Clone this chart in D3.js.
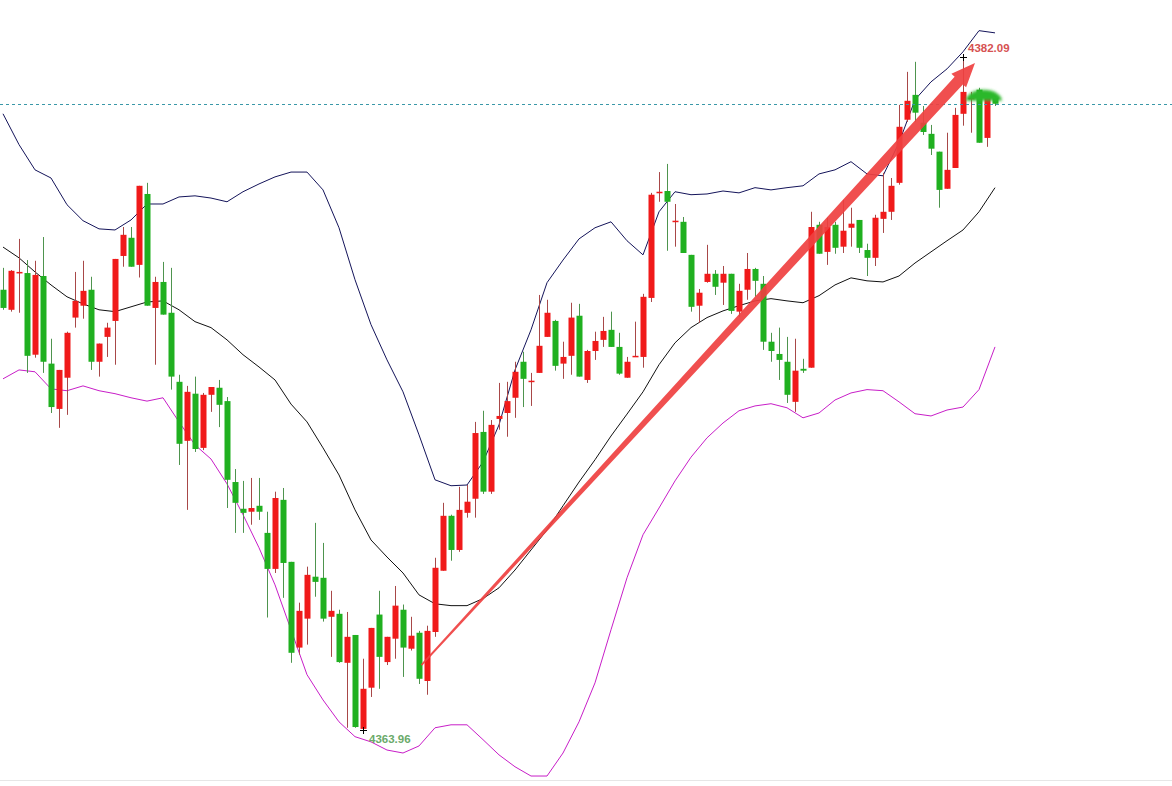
<!DOCTYPE html>
<html><head><meta charset="utf-8">
<script src="https://cdn.jsdelivr.net/npm/d3@7/dist/d3.min.js"></script>
<style>html,body{margin:0;padding:0;background:#fff;overflow:hidden}</style>
</head><body>
<svg id="chart" width="1172" height="786"></svg>
<script>
// ---- data (prices) ----
const opens = [4375.82,4375.28,4376.27,4376.27,4374.07,4376.19,4373.83,4372.61,4373.45,4375.07,4375.39,4375.82,4373.88,4374.55,4374.98,4376.73,4377.22,4376.49,4378.40,4375.33,4376.03,4375.20,4373.34,4371.75,4373.02,4371.56,4372.99,4373.18,4372.82,4370.64,4369.92,4369.84,4370.00,4369.27,4368.30,4370.16,4368.49,4366.18,4366.96,4368.09,4368.06,4367.01,4367.09,4365.77,4366.52,4363.99,4365.10,4367.07,4365.79,4366.42,4367.20,4366.15,4366.58,4365.28,4366.60,4368.25,4369.73,4368.81,4369.81,4370.19,4371.99,4370.38,4372.34,4372.50,4372.91,4373.88,4373.34,4373.58,4374.55,4374.98,4373.83,4374.04,4375.12,4373.39,4374.17,4374.47,4374.74,4374.28,4373.45,4374.01,4374.01,4375.60,4378.43,4378.48,4377.65,4377.65,4376.76,4375.39,4376.03,4376.25,4376.01,4376.25,4375.23,4375.82,4376.38,4375.98,4374.42,4374.09,4373.88,4372.80,4373.69,4373.72,4377.57,4376.84,4377.57,4376.98,4377.49,4377.70,4376.89,4376.68,4377.73,4377.92,4378.70,4380.40,4381.07,4380.32,4380.02,4379.54,4378.54,4379.10,4380.56,4380.96,4381.21,4379.91,4380.99];
const highs = [4376.41,4376.35,4377.19,4376.62,4376.60,4377.24,4374.50,4373.66,4374.69,4376.30,4376.60,4376.17,4374.37,4374.93,4376.65,4377.51,4377.51,4378.62,4378.70,4376.17,4376.57,4376.41,4373.53,4373.23,4373.48,4373.04,4373.20,4373.39,4372.93,4370.99,4370.67,4370.75,4370.75,4369.84,4370.38,4370.48,4368.49,4367.39,4368.36,4369.54,4369.00,4367.71,4367.20,4367.14,4366.52,4365.88,4366.71,4367.71,4366.47,4367.84,4367.34,4367.01,4366.63,4366.77,4368.60,4370.08,4369.76,4370.51,4370.56,4372.26,4372.56,4372.31,4373.31,4373.34,4373.88,4374.15,4373.58,4375.68,4375.55,4375.01,4374.42,4375.47,4375.44,4374.20,4374.69,4375.09,4375.23,4374.66,4374.01,4374.96,4375.71,4378.43,4378.99,4379.21,4378.13,4377.78,4376.76,4375.84,4377.03,4376.35,4376.46,4376.25,4375.98,4376.81,4376.41,4376.19,4374.66,4374.80,4374.55,4374.50,4373.96,4377.92,4377.65,4377.76,4377.65,4378.24,4378.03,4377.70,4377.06,4377.84,4378.97,4378.83,4380.80,4381.69,4381.96,4380.77,4380.26,4379.54,4380.05,4380.72,4382.09,4381.15,4381.26,4381.07,4381.04];
const lows = [4375.28,4375.23,4375.20,4373.58,4373.99,4373.58,4372.50,4372.10,4372.45,4374.80,4375.04,4373.66,4373.48,4374.01,4373.80,4376.44,4376.44,4376.15,4375.39,4373.80,4375.15,4373.13,4371.10,4369.89,4371.45,4371.50,4372.53,4372.12,4369.94,4369.27,4369.27,4369.49,4369.62,4366.99,4368.19,4367.52,4365.77,4365.99,4366.26,4367.55,4366.88,4365.93,4365.77,4364.02,4364.02,4363.96,4364.85,4365.07,4365.71,4365.88,4365.39,4366.10,4365.20,4364.91,4366.47,4368.25,4368.52,4368.76,4369.68,4369.68,4370.32,4370.32,4372.05,4371.86,4372.37,4372.66,4372.69,4373.58,4374.55,4373.64,4373.42,4373.53,4373.48,4373.31,4373.93,4374.28,4374.28,4373.53,4373.45,4374.01,4373.72,4375.49,4378.19,4376.87,4376.98,4376.81,4375.23,4374.93,4376.01,4375.68,4375.41,4375.17,4375.09,4375.55,4375.63,4374.20,4373.88,4373.39,4372.77,4372.53,4373.58,4373.72,4376.79,4376.49,4376.79,4376.81,4376.98,4376.81,4376.19,4376.46,4377.35,4377.70,4378.65,4380.34,4380.34,4379.99,4379.45,4378.03,4378.54,4379.10,4380.24,4380.05,4379.78,4379.67,4380.77];
const closes = [4375.33,4376.33,4376.30,4374.04,4376.22,4373.88,4372.66,4373.66,4374.66,4375.52,4375.79,4373.88,4374.37,4374.80,4376.65,4377.30,4376.44,4378.62,4375.39,4376.03,4375.15,4373.48,4371.67,4373.07,4371.53,4372.99,4373.20,4372.72,4370.70,4370.08,4369.81,4369.94,4369.84,4368.30,4370.21,4368.46,4366.04,4367.17,4368.14,4367.95,4366.96,4367.17,4365.79,4366.47,4364.04,4365.07,4366.71,4365.93,4366.47,4367.31,4366.18,4366.50,4365.34,4366.63,4368.33,4369.73,4368.81,4369.89,4370.11,4371.96,4370.38,4372.18,4372.42,4372.82,4373.61,4373.42,4373.37,4374.31,4375.20,4373.77,4374.01,4375.07,4373.48,4374.17,4374.44,4374.71,4374.28,4373.56,4373.88,4374.04,4375.63,4378.38,4378.46,4378.19,4377.68,4376.81,4375.36,4375.74,4376.25,4375.90,4376.25,4375.25,4375.79,4376.38,4376.06,4374.42,4374.17,4373.93,4372.99,4373.64,4373.64,4377.51,4376.79,4377.51,4376.95,4377.41,4377.60,4376.95,4376.68,4377.76,4377.92,4378.62,4380.21,4380.91,4380.59,4380.07,4379.62,4378.51,4379.05,4380.53,4381.15,4380.99,4379.78,4380.99,4380.83];

// Bollinger bands, read every second bar (bar index 0,2,4,...,124)
const bandStep = 2;
const upperBand = [4380.56,4379.73,4379.05,4378.83,4378.11,4377.68,4377.46,4377.43,4377.70,4378.13,4378.13,4378.32,4378.35,4378.29,4378.19,4378.46,4378.67,4378.86,4378.99,4378.99,4378.51,4377.49,4376.09,4374.88,4373.93,4373.07,4371.91,4370.70,4370.54,4370.56,4371.18,4372.18,4373.66,4374.74,4376.01,4376.62,4377.19,4377.49,4377.65,4377.14,4376.76,4377.92,4378.46,4378.38,4378.40,4378.48,4378.43,4378.57,4378.51,4378.57,4378.62,4378.94,4379.05,4379.27,4378.94,4378.89,4379.78,4380.94,4381.42,4381.77,4382.23,4382.80,4382.74];
const midBand = [4376.97,4376.68,4376.30,4375.95,4375.63,4375.44,4375.28,4375.23,4375.36,4375.49,4375.52,4375.28,4374.96,4374.80,4374.47,4374.07,4373.74,4373.39,4372.74,4372.26,4371.56,4370.83,4369.89,4369.08,4368.62,4368.19,4367.60,4367.36,4367.31,4367.31,4367.50,4367.79,4368.27,4368.81,4369.35,4370.00,4370.64,4371.24,4371.88,4372.47,4373.07,4373.80,4374.39,4374.80,4375.07,4375.25,4375.39,4375.52,4375.58,4375.52,4375.47,4375.66,4375.95,4376.14,4376.06,4376.03,4376.19,4376.54,4376.84,4377.14,4377.43,4377.92,4378.57];
const lowerBand = [4373.42,4373.66,4373.61,4373.15,4373.10,4373.23,4373.10,4373.02,4372.91,4372.82,4372.91,4372.26,4371.64,4371.26,4370.59,4369.76,4368.87,4367.87,4366.66,4365.45,4364.77,4364.18,4363.78,4363.64,4363.42,4363.34,4363.53,4364.02,4364.10,4364.10,4363.70,4363.29,4362.97,4362.72,4362.72,4363.34,4364.18,4365.23,4366.66,4368.06,4369.22,4369.94,4370.67,4371.31,4371.83,4372.23,4372.56,4372.69,4372.75,4372.64,4372.37,4372.50,4372.85,4373.04,4373.13,4373.10,4372.80,4372.48,4372.42,4372.58,4372.66,4373.13,4374.28];

// marked extremes
const highMark = {index: 120, price: 4382.09, label: "4382.09"};
const lowMark = {index: 45, price: 4363.96, label: "4363.96"};
// drawn trend arrow (bar index, price)
const arrowFrom = [52.3, 4365.71];
const arrowTo = [121.5, 4381.93];
// green highlight on the last bars
const highlight = {index: 122.6, price: 4380.83};

// ---- drawing ----
const W = 1172, H = 786;
const svg = d3.select("#chart");
svg.append("rect").attr("width", W).attr("height", H).attr("fill", "#fff");

const x = d3.scaleLinear().domain([0, opens.length - 1]).range([3, 995]);
const y = d3.scaleLinear().domain([lowMark.price, highMark.price]).range([730, 57]);

const bars = opens.map((o, i) => ({i, o, h: highs[i], l: lows[i], c: closes[i]}));
const up = d => d.c >= d.o;

// bottom separator
svg.append("line").attr("x1", 0).attr("x2", W).attr("y1", 780.5).attr("y2", 780.5)
  .attr("stroke", "#e6e6e6").attr("stroke-width", 1);

// bands
const bandLine = arr => d3.line()
  .x((d, k) => x(k * bandStep)).y(d => y(d)).curve(d3.curveLinear)(arr);
svg.append("path").attr("d", bandLine(upperBand)).attr("fill", "none").attr("stroke", "#14145a").attr("stroke-width", 1);
svg.append("path").attr("d", bandLine(midBand)).attr("fill", "none").attr("stroke", "#111").attr("stroke-width", 1);
svg.append("path").attr("d", bandLine(lowerBand)).attr("fill", "none").attr("stroke", "#c81ec8").attr("stroke-width", 1);

// candles
const g = svg.append("g");
g.selectAll("line.wick").data(bars).join("line")
  .attr("x1", d => Math.round(x(d.i)) + 0.5).attr("x2", d => Math.round(x(d.i)) + 0.5)
  .attr("y1", d => y(d.h)).attr("y2", d => y(d.l))
  .attr("stroke", d => up(d) ? "#a84848" : "#4e944e").attr("stroke-width", 1);
g.selectAll("rect.body").data(bars).join("rect")
  .attr("x", d => Math.round(x(d.i)) - 2.5).attr("width", 6)
  .attr("y", d => y(Math.max(d.o, d.c)))
  .attr("height", d => Math.max(1.5, Math.abs(y(d.o) - y(d.c))))
  .attr("fill", d => up(d) ? "#f01a1a" : "#20b020");

// last price dashed line
const lastY = Math.round(y(closes[closes.length - 1])) + 0.5;
svg.append("line").attr("x1", 0).attr("x2", W).attr("y1", lastY).attr("y2", lastY)
  .attr("stroke", "#3a98a8").attr("stroke-width", 1).attr("stroke-dasharray", "3,3");

// extreme markers
function cross(px, py) {
  svg.append("path").attr("d", `M${px-3.5},${py}H${px+3.5}M${px},${py-3.5}V${py+3.5}`)
    .attr("stroke", "#000").attr("stroke-width", 1);
}
cross(Math.round(x(highMark.index)) + 0.5, Math.round(y(highMark.price)) + 0.5);
cross(Math.round(x(lowMark.index)) + 0.5, Math.round(y(lowMark.price)) + 0.5);
svg.append("text").attr("x", x(highMark.index) + 5).attr("y", y(highMark.price) - 5)
  .attr("font-family", "Liberation Sans, Arial, sans-serif").attr("font-size", 11.5)
  .attr("font-weight", "bold").attr("fill", "#d65252").text(highMark.label);
svg.append("text").attr("x", x(lowMark.index) + 6).attr("y", y(lowMark.price) + 13)
  .attr("font-family", "Liberation Sans, Arial, sans-serif").attr("font-size", 11.5)
  .attr("font-weight", "bold").attr("fill", "#6aaa6a").text(lowMark.label);

// green highlight blob
const defs = svg.append("defs");
defs.append("filter").attr("id", "blur").attr("x", "-30%").attr("y", "-30%").attr("width", "160%").attr("height", "160%")
  .append("feGaussianBlur").attr("stdDeviation", 1.6);
const hx = x(highlight.index), hy = y(highlight.price) - 3;
svg.append("path")
  .attr("d", `M${hx-18},${hy} A18,11 0 0 1 ${hx+18},${hy} Z`)
  .attr("fill", "#2cb82c").attr("filter", "url(#blur)");

// tapered trend arrow
const p0 = [x(arrowFrom[0]), y(arrowFrom[1])], p1 = [x(arrowTo[0]), y(arrowTo[1])];
const dx = p1[0] - p0[0], dy = p1[1] - p0[1], L = Math.hypot(dx, dy);
const ux = dx / L, uy = dy / L, nx = -uy, ny = ux;
const hl = 24, hw = 10, w0 = 0.9, w1 = 5.6;
const pb = [p1[0] - ux * hl, p1[1] - uy * hl];
const pts = [
  [p0[0] + nx * w0, p0[1] + ny * w0],
  [pb[0] + nx * w1, pb[1] + ny * w1],
  [pb[0] + nx * hw, pb[1] + ny * hw],
  p1,
  [pb[0] - nx * hw, pb[1] - ny * hw],
  [pb[0] - nx * w1, pb[1] - ny * w1],
  [p0[0] - nx * w0, p0[1] - ny * w0]
];
svg.append("path").attr("d", "M" + pts.map(p => p.join(",")).join("L") + "Z")
  .attr("fill", "#ef4040").attr("fill-opacity", 0.92);
</script>
</body></html>
